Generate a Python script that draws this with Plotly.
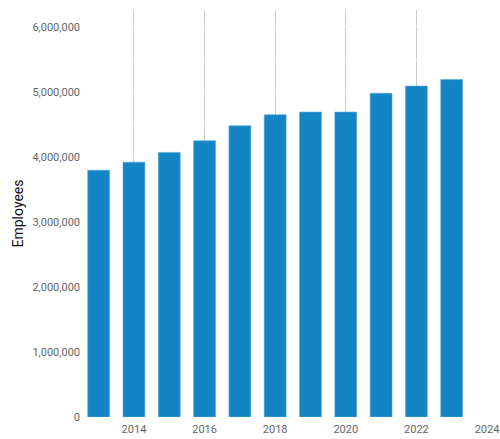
import plotly.graph_objects as go

years = [2013, 2014, 2015, 2016, 2017, 2018, 2019, 2020, 2021, 2022, 2023]
employees = [3795000, 3920000, 4070000, 4250000, 4480000, 4650000, 4690000, 4690000, 4980000, 5090000, 5190000]
x_ticks = [2014, 2016, 2018, 2020, 2022, 2024]
y_ticks = [0, 500000, 1000000, 1500000, 2000000, 2500000, 3000000,
           3500000, 4000000, 4500000, 5000000, 5500000, 6000000]
y_tick_labels = ["0", "", "1,000,000", "", "2,000,000", "", "3,000,000",
                 "", "4,000,000", "", "5,000,000", "", "6,000,000"]

fig = go.Figure()
fig.add_trace(go.Bar(
    x=years, y=employees, width=0.62,
    marker=dict(color="#1485c4", line=dict(color="#5aa9da", width=0.6)),
))
fig.update_layout(
    width=500, height=439,
    margin=dict(l=81, r=13, t=10, b=22),
    paper_bgcolor="white", plot_bgcolor="white",
    font=dict(family="Roboto", size=11, color="#666666"),
    showlegend=False,
)
fig.update_xaxes(
    range=[2012.5, 2024], tickvals=x_ticks, ticktext=[str(t) for t in x_ticks],
    showgrid=True, gridcolor="#cccccc", gridwidth=1, showline=False, zeroline=False,
    ticks="", tickfont=dict(size=11, color="#666666"), automargin=False,
    ticklabelstandoff=4,
)
fig.update_yaxes(
    range=[0, 6260000], tickvals=y_ticks, ticktext=y_tick_labels,
    showgrid=True, gridcolor="white", gridwidth=1.2, showline=False, zeroline=False, ticks="",
    tickfont=dict(size=11, color="#666666"), automargin=True,
    title=dict(text="Employees", font=dict(size=14, color="#111111"), standoff=5),
)
fig.write_html("out.html", config={"displayModeBar": False},
               post_script="document.body.style.margin='0';")
